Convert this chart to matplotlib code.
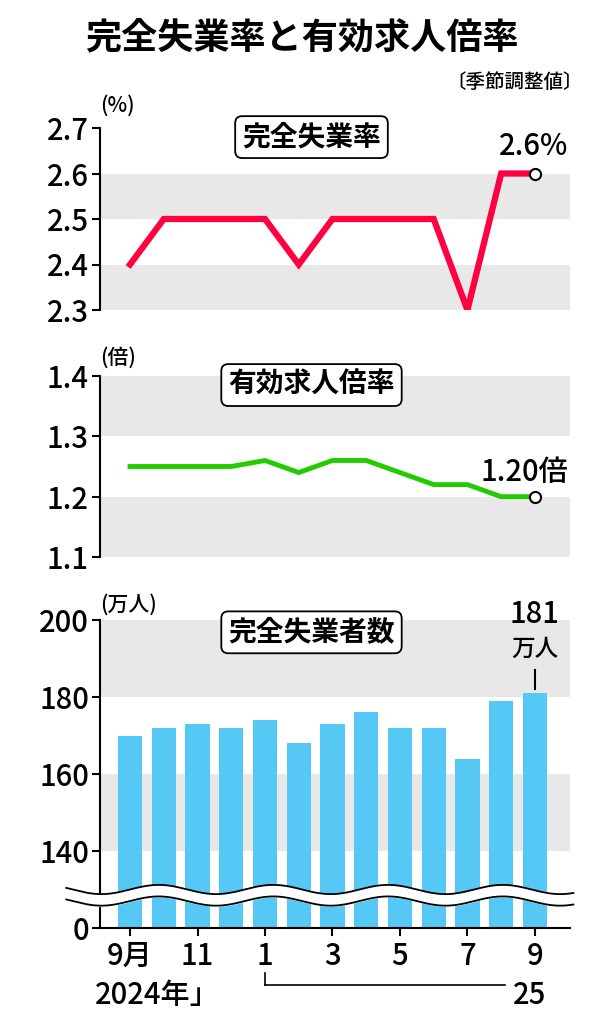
import matplotlib
matplotlib.use("Agg")
import matplotlib.pyplot as plt
import numpy as np

plt.rcParams['font.family'] = ['Noto Sans CJK JP', 'DejaVu Sans']
plt.rcParams['font.weight'] = 'bold'

months = list(range(13))
unemp_rate = [2.4, 2.5, 2.5, 2.5, 2.5, 2.4, 2.5, 2.5, 2.5, 2.5, 2.3, 2.6, 2.6]
job_ratio = [1.25, 1.25, 1.25, 1.25, 1.26, 1.24, 1.26, 1.26, 1.24, 1.22, 1.22, 1.20, 1.20]
unemployed = [170, 172, 173, 172, 174, 168, 173, 176, 172, 172, 164, 179, 181]
xtick_pos = [0, 2, 4, 6, 8, 10, 12]
xtick_lab = ["9月", "11", "1", "3", "5", "7", "9"]

W, H = 604, 1024
fig = plt.figure(figsize=(6.04, 10.24), dpi=100)
L, R = 100 / W, 570 / W
xlim = (-0.89, 13.04)
GREY = '#e8e8e8'
FS = 21
TW = 'medium'

def mkax(top, bot, ylim, bands, ticks, ticklabels):
    ax = fig.add_axes([L, 1 - bot / H, R - L, (bot - top) / H])
    ax.set_xlim(*xlim); ax.set_ylim(*ylim)
    for b0, b1 in bands:
        ax.axhspan(b0, b1, color=GREY, zorder=0, lw=0)
    for s in ['top', 'right', 'bottom']:
        ax.spines[s].set_visible(False)
    ax.spines['left'].set_linewidth(1.5)
    ax.set_yticks(ticks)
    ax.set_yticklabels(ticklabels, fontweight=TW)
    ax.tick_params(axis='y', labelsize=FS, length=6, width=1.5, direction='out', pad=2)
    ax.tick_params(axis='x', bottom=False, labelbottom=False)
    return ax

def box(ax, x, y, s):
    ax.text(x, y, s, transform=ax.transAxes, ha='center', va='center', fontsize=20,
            fontweight='bold', bbox=dict(boxstyle='round,pad=0.25', fc='white', ec='black', lw=1.3))

fig.text(0.5, 1 - 38 / H, "完全失業率と有効求人倍率", ha='center', va='center', fontsize=26, fontweight='bold')
fig.text(0.965, 1 - 82 / H, "〔季節調整値〕", ha='right', va='center', fontsize=14, fontweight=TW)

ax1 = mkax(128, 310, (2.3, 2.7), [(2.5, 2.6), (2.3, 2.4)], [2.3, 2.4, 2.5, 2.6, 2.7],
           ["2.3", "2.4", "2.5", "2.6", "2.7"])
ax1.plot(months, unemp_rate, color='#ff0040', lw=4.5, solid_joinstyle='miter', zorder=3)
ax1.plot(months[-1], unemp_rate[-1], 'o', ms=8, mfc='white', mec='black', mew=1.5, zorder=4)
ax1.text(13.0, 2.625, "2.6%", ha='right', va='bottom', fontsize=21, fontweight=TW)
ax1.text(0.0, 1.12, "(%)", transform=ax1.transAxes, ha='left', va='center', fontsize=15, fontweight=TW)
box(ax1, 0.45, 0.95, "完全失業率")

ax2 = mkax(376, 557, (1.1, 1.4), [(1.3, 1.4), (1.1, 1.2)], [1.1, 1.2, 1.3, 1.4],
           ["1.1", "1.2", "1.3", "1.4"])
ax2.plot(months, job_ratio, color='#22cc00', lw=3.5, zorder=3)
ax2.plot(months[-1], job_ratio[-1], 'o', ms=8, mfc='white', mec='black', mew=1.5, zorder=4)
ax2.text(13.0, 1.215, "1.20倍", ha='right', va='bottom', fontsize=21, fontweight=TW)
ax2.text(0.0, 1.1, "(倍)", transform=ax2.transAxes, ha='left', va='center', fontsize=15, fontweight=TW)
box(ax2, 0.45, 0.95, "有効求人倍率")

ax3 = mkax(620, 928, (120, 200), [(180, 200), (140, 160)], [120, 140, 160, 180, 200],
           ["0", "140", "160", "180", "200"])
ax3.bar(months, [v - 120 for v in unemployed], bottom=120, width=0.72, color='#55c8f5', zorder=2)
ax3.spines['bottom'].set_visible(True); ax3.spines['bottom'].set_linewidth(1.5)
ax3.tick_params(axis='x', bottom=True, labelbottom=True, length=6, width=1.5, labelsize=FS)
ax3.set_xticks(xtick_pos); ax3.set_xticklabels(xtick_lab, fontweight=TW)
xs = np.linspace(xlim[0] - 1.0, xlim[1] + 0.1, 400)
wave = 1.2 * np.sin(xs * 2 * np.pi / 3.4)
ax3.fill_between(xs, 127 + wave, 130 + wave, color='white', zorder=5, clip_on=False)
ax3.plot(xs, 127 + wave, color='black', lw=1.3, zorder=6, clip_on=False)
ax3.plot(xs, 130 + wave, color='black', lw=1.3, zorder=6, clip_on=False)
ax3.set_xlim(*xlim)
ax3.text(0.0, 1.05, "(万人)", transform=ax3.transAxes, ha='left', va='center', fontsize=15, fontweight=TW)
box(ax3, 0.45, 0.96, "完全失業者数")
ax3.text(12, 197.5, "181", ha='center', va='bottom', fontsize=21, fontweight=TW)
ax3.text(12, 189.5, "万人", ha='center', va='bottom', fontsize=17, fontweight=TW)
ax3.plot([12, 12], [182, 187], color='black', lw=1.5)

fig.text(0.26, 1 - 996 / H, "2024年」", ha='center', va='center', fontsize=21, fontweight=TW)
fig.text(530 / W, 1 - 996 / H, "25", ha='center', va='center', fontsize=21, fontweight=TW)
yb = 1 - 985 / H
fig.add_artist(plt.Line2D([265 / W, 265 / W], [yb + 0.012, yb], color='black', lw=1.2))
fig.add_artist(plt.Line2D([265 / W, 505 / W], [yb, yb], color='black', lw=1.2))

fig.savefig("out.png", dpi=100)
